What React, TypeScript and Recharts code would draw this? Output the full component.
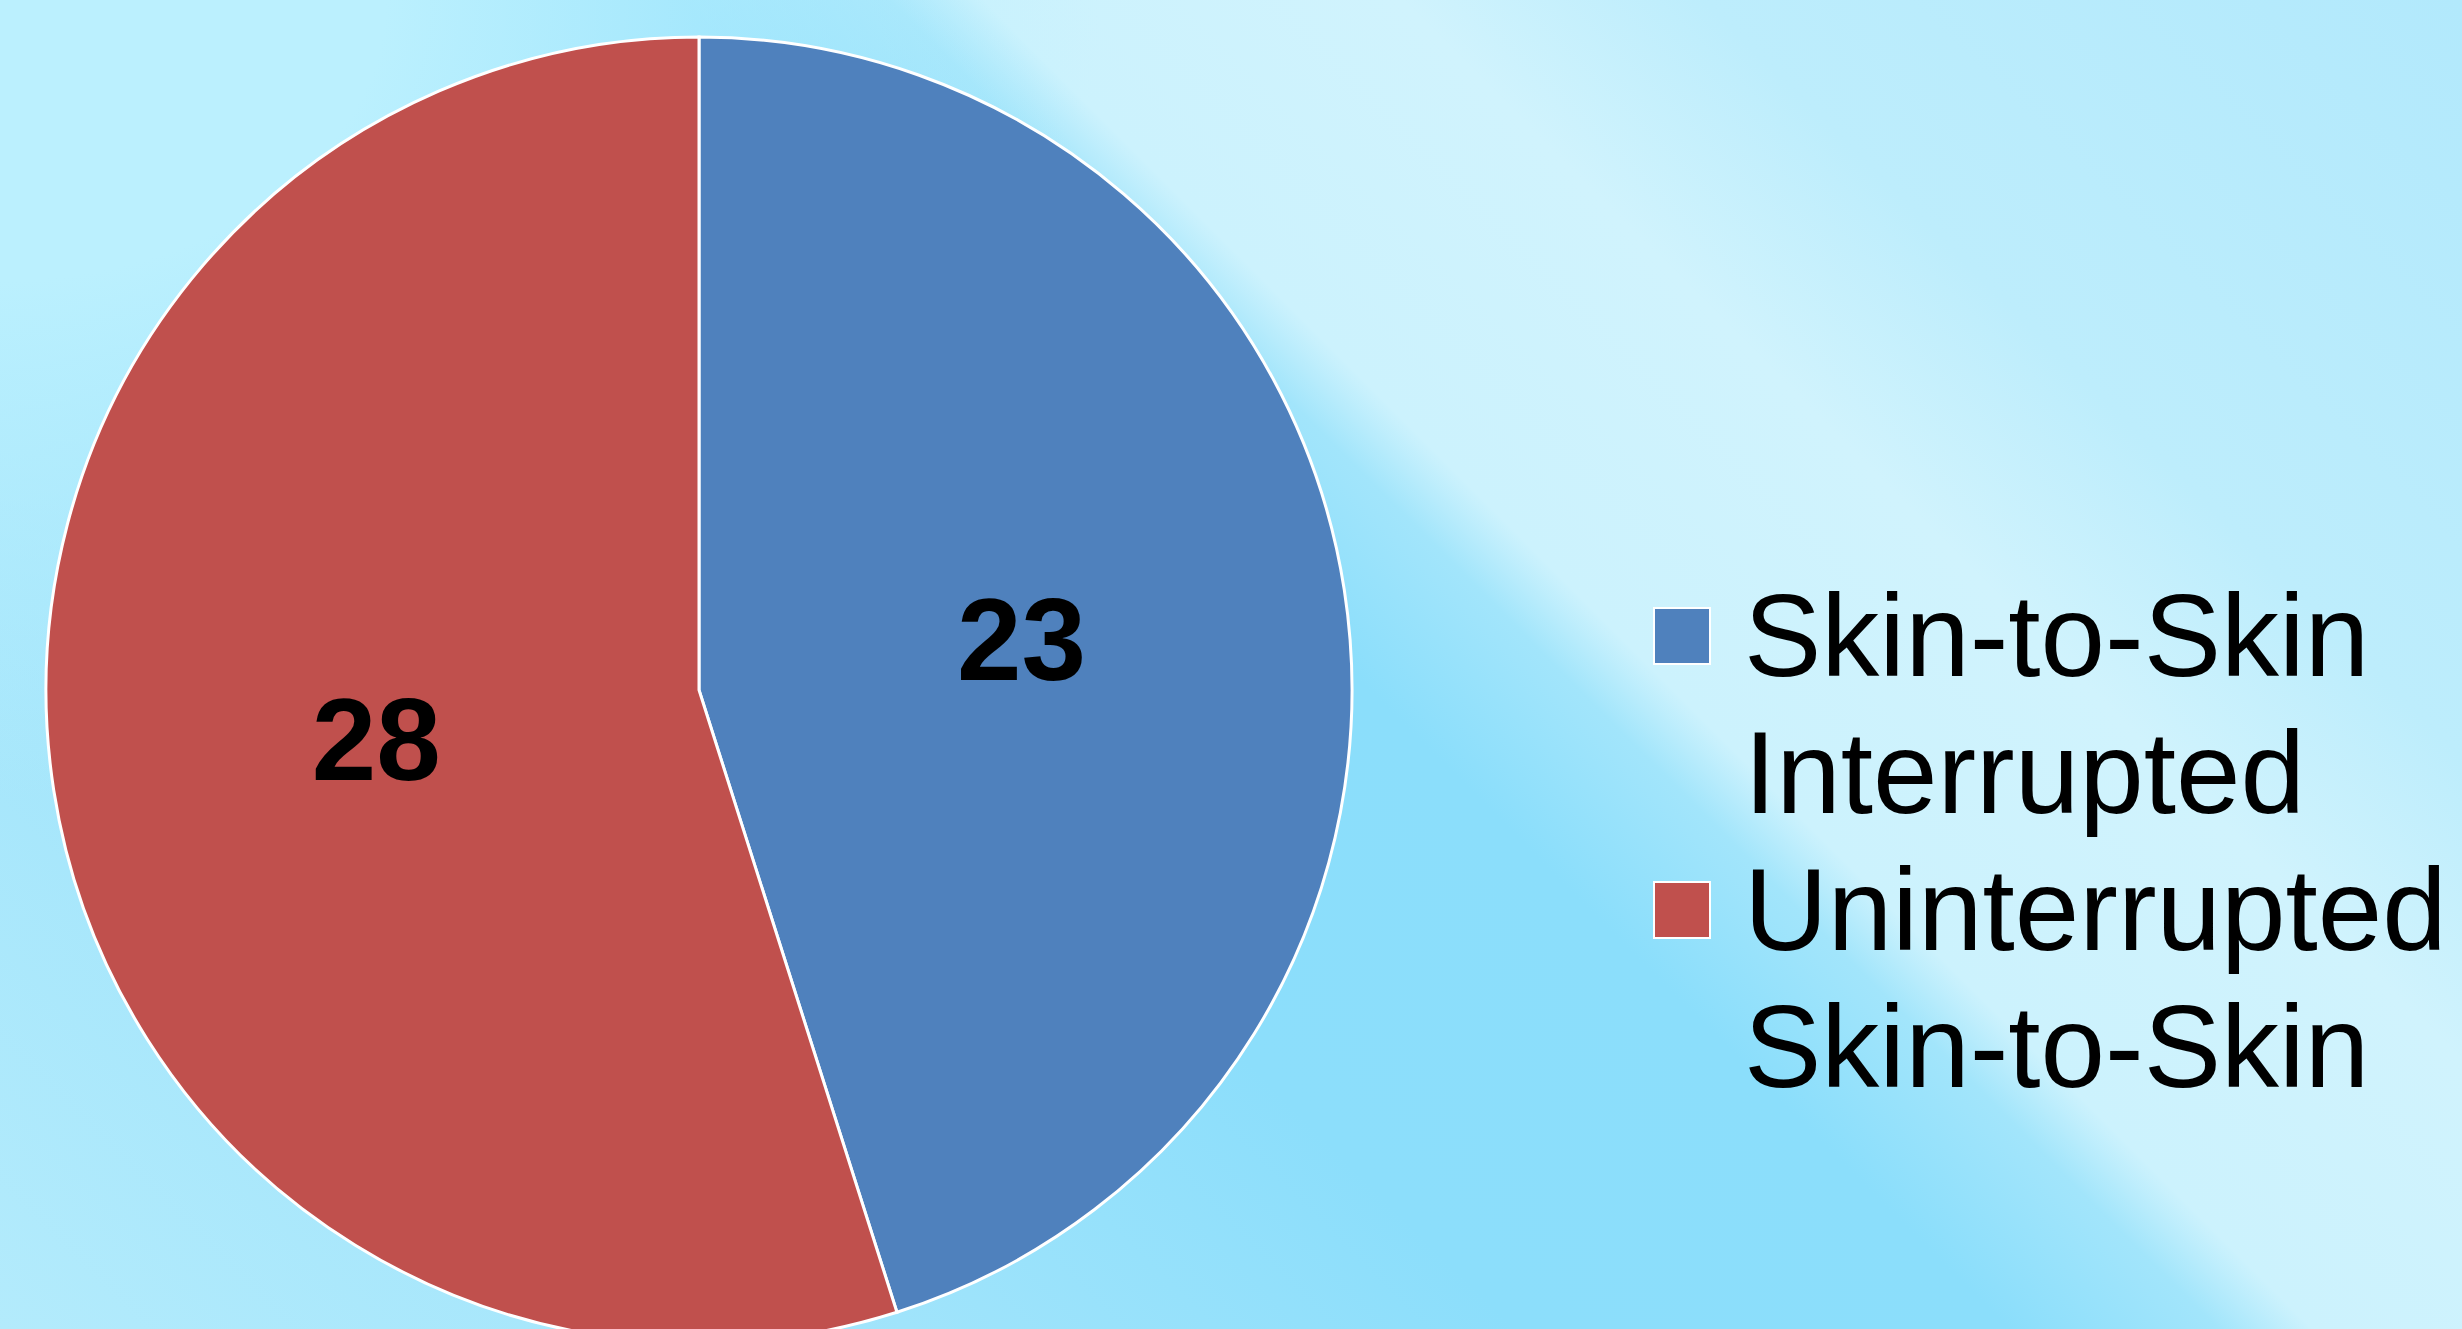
import { PieChart, Pie, Cell, Legend } from "recharts";

const W = 2462;
const H = 1329;

const BLUE = "#4F81BD";
const RED = "#C0504D";

const categories = ["Skin-to-Skin Interrupted", "Uninterrupted Skin-to-Skin"];
const counts = [23, 28];
const colors = [BLUE, RED];

const data = categories.map((name, i) => ({ name, value: counts[i] }));

const RAD = Math.PI / 180;

// value label sits halfway out along each slice's mid angle
function renderLabel(props: any) {
  const { cx, cy, midAngle, outerRadius, value } = props;
  const r = outerRadius * 0.5;
  const x = cx + r * Math.cos(-midAngle * RAD);
  const y = cy + r * Math.sin(-midAngle * RAD);
  return (
    <text
      x={x}
      y={y}
      textAnchor="middle"
      dominantBaseline="central"
      fill="#000"
      fontFamily="'Liberation Sans', Arial, sans-serif"
      fontWeight={700}
      fontSize={116}
    >
      {value}
    </text>
  );
}

function LegendBox() {
  return (
    <div style={{ display: "flex", flexDirection: "column" }}>
      {data.map((d, i) => (
        <div key={d.name} style={{ display: "flex", alignItems: "flex-start" }}>
          <div
            style={{
              width: 54,
              height: 54,
              marginTop: 39,
              background: colors[i],
              border: "2px solid #fff",
              flexShrink: 0,
            }}
          />
          <div
            style={{
              marginLeft: 33,
              width: 720,
              fontFamily: "'Liberation Sans', Arial, sans-serif",
              fontSize: 116,
              lineHeight: "137px",
              color: "#000",
            }}
          >
            {d.name}
          </div>
        </div>
      ))}
    </div>
  );
}

const BG = [
  "radial-gradient(ellipse 1100px 800px at 0 0, rgba(187,240,254,1) 35%, rgba(187,240,254,0) 100%)",
  "linear-gradient(225deg, #b2e9fc 0%, #bdedfc 20%, #d0f3fd 28%, #ccf2fd 39%, #a2e5fb 41.5%, #8bdefb 47%, #8cdefb 60%, #a0e4fb 76%, #b3ebfc 100%)",
].join(", ");

export default function App() {
  return (
    <div
      style={{
        position: "absolute",
        left: 0,
        top: 0,
        width: W,
        height: H,
        overflow: "hidden",
        background: BG,
      }}
    >
      <PieChart width={W} height={H} margin={{ top: 0, right: 0, bottom: 0, left: 0 }}>
        <Pie
          data={data}
          dataKey="value"
          nameKey="name"
          cx={699}
          cy={690}
          outerRadius={653}
          startAngle={90}
          endAngle={-270}
          stroke="#fff"
          strokeWidth={3}
          label={renderLabel}
          labelLine={false}
          isAnimationActive={false}
        >
          {data.map((d, i) => (
            <Cell key={d.name} fill={colors[i]} />
          ))}
        </Pie>
        <Legend
          content={() => <LegendBox />}
          wrapperStyle={{ left: 1653, top: 568, width: 820 }}
        />
      </PieChart>
    </div>
  );
}
